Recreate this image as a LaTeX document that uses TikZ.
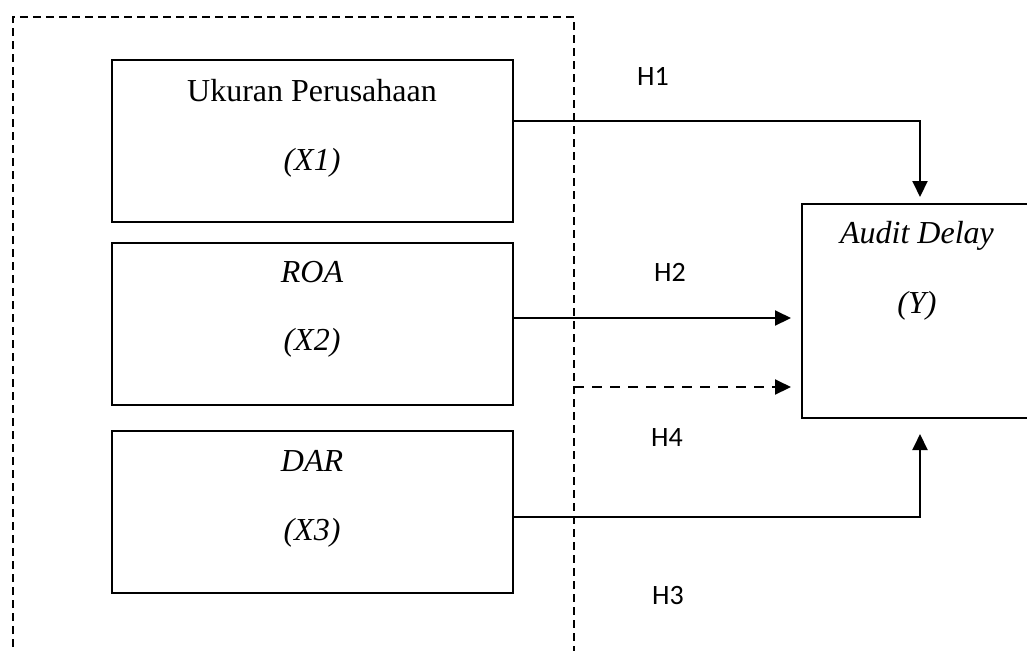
\documentclass[tikz,border=0pt]{standalone}
\usepackage{fontspec}
\setmainfont{Liberation Serif}
\newfontfamily\labelfont{Carlito}
\usetikzlibrary{arrows.meta}
\begin{document}
\begin{tikzpicture}[x=0.5pt,y=-0.5pt,
  varbox/.style={draw, line width=1pt, inner sep=0pt, minimum width=200.5pt, minimum height=81pt},
  vartext/.style={anchor=base, inner sep=0pt, font=\fontsize{16pt}{19pt}\selectfont},
  hyp/.style={anchor=base, inner sep=0pt, font=\labelfont\fontsize{14pt}{17pt}\selectfont},
  link/.style={line width=1pt, -{Triangle[length=8pt,width=7.5pt]}},
  frame/.style={line width=0.8pt, dash pattern=on 4pt off 2.5pt}]
\clip (0,0) rectangle (1027,650);

% independent variables grouped in a dashed frame
\draw[frame] (13,660) -- (13,17) -- (574,17) -- (574,660);

\node[varbox] (x1) at (312.5,141) {};
\node[varbox] (x2) at (312.5,324) {};
\node[varbox] (x3) at (312.5,512) {};
\node[draw, line width=1pt, inner sep=0pt, minimum width=115pt, minimum height=107pt] (ad) at (917,311) {};

\node[vartext] (x1a) at (312,101) {Ukuran Perusahaan};
\node[vartext] (x1b) at (312,170) {\itshape (X1)};
\node[vartext] (x2a) at (312,282) {\itshape ROA};
\node[vartext] (x2b) at (312,350) {\itshape (X2)};
\node[vartext] (x3a) at (312,471) {\itshape DAR};
\node[vartext] (x3b) at (312,540) {\itshape (X3)};
\node[vartext] (ada) at (917,243) {\itshape Audit Delay};
\node[vartext] (adb) at (917,313) {\itshape (Y)};

% hypothesis labels
\node[hyp] (h1) at (653,85) {H1};
\node[hyp] (h2) at (670,281) {H2};
\node[hyp] (h4) at (667,446) {H4};
\node[hyp] (h3) at (668,604) {H3};

% helper points for the connectors
\coordinate (r1) at (0,121);
\coordinate (r2) at (0,318);
\coordinate (r3) at (0,517);
\coordinate (c1) at (920,0);
\coordinate (m4) at (574,387);

\draw[link, shorten >=3pt] (x1.east |- r1) -| (ad.north -| c1);
\draw[link, shorten >=5pt] (x2.east |- r2) -- (ad.west |- r2);
\draw[link, dash pattern=on 5pt off 4pt, shorten >=5pt] (m4) -- (ad.west |- m4);
\draw[link, shorten >=7.5pt] (x3.east |- r3) -| (ad.south -| c1);
\end{tikzpicture}
\end{document}
